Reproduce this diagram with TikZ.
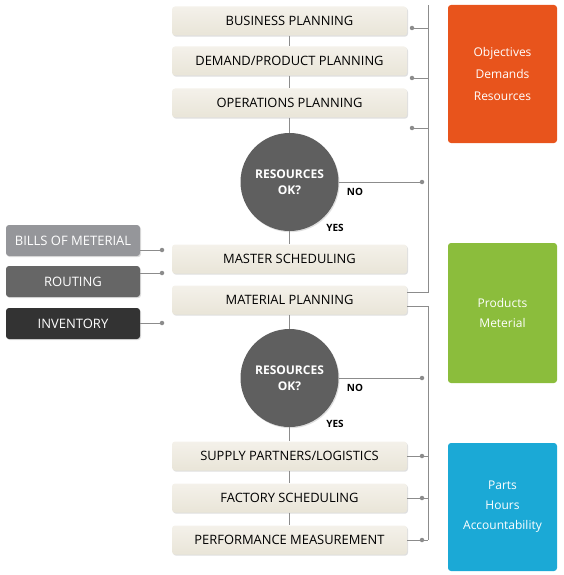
\documentclass[tikz,border=0pt]{standalone}
\usepackage{fontspec}
\setmainfont{Open Sans}
\usetikzlibrary{shadows}
\definecolor{linegray}{HTML}{8C8C8C}
\definecolor{boxtop}{HTML}{F4F1EA}
\definecolor{boxbot}{HTML}{E9E5D8}
\definecolor{qgray}{HTML}{5F5F5F}
\definecolor{bomgray}{HTML}{95969A}
\definecolor{routgray}{HTML}{666666}
\definecolor{invgray}{HTML}{333333}
\definecolor{objorange}{HTML}{E8541C}
\definecolor{prodgreen}{HTML}{8BBD3C}
\definecolor{partblue}{HTML}{1BA9D6}

\begin{document}
\begin{tikzpicture}[x=1pt, y=-1pt,
    stepbox/.style={rounded corners=3pt, minimum width=235pt, minimum height=29pt,
        top color=boxtop, bottom color=boxbot, font=\fontsize{12.9}{14}\selectfont,
        drop shadow={shadow xshift=1pt, shadow yshift=-1.2pt, opacity=0.25}},
    askcircle/.style={circle, fill=qgray, minimum size=98pt, text=white, align=center,
        font=\bfseries\fontsize{12}{16}\selectfont,
        drop shadow={shadow xshift=1pt, shadow yshift=-1.2pt, opacity=0.25}},
    sidebox/.style={rounded corners=3pt, minimum width=134pt, minimum height=31pt,
        text=white, font=\fontsize{13}{14}\selectfont,
        drop shadow={shadow xshift=1pt, shadow yshift=-1.2pt, opacity=0.25}},
    notebox/.style={rounded corners=3pt, minimum width=109pt, text=white, align=center},
    dot/.style={circle, fill=linegray, inner sep=0pt, minimum size=4.5pt},
    answer/.style={font=\bfseries\fontsize{10}{12}\selectfont},
    link/.style={draw=linegray, line width=0.8pt}]
\useasboundingbox (0,0) rectangle (563,575);

% main column
\node[stepbox] (bp) at (289.5,21) {BUSINESS PLANNING};
\node[stepbox] (dp) at (289.5,61) {DEMAND/PRODUCT PLANNING};
\node[stepbox] (op) at (289.5,103) {OPERATIONS PLANNING};
\node[askcircle] (rq1) at (289.5,182) {RESOURCES\\OK?};
\node[stepbox] (ms) at (289.5,259) {MASTER SCHEDULING};
\node[stepbox] (mp) at (289.5,300) {MATERIAL PLANNING};
\node[askcircle] (rq2) at (289.5,378) {RESOURCES\\OK?};
\node[stepbox] (sp) at (289.5,456) {SUPPLY PARTNERS/LOGISTICS};
\node[stepbox] (fs) at (289.5,498) {FACTORY SCHEDULING};
\node[stepbox] (pm) at (289.5,540) {PERFORMANCE MEASUREMENT};
\node[answer] (no1) at (355,192) {NO};
\node[answer] (yes1) at (335,228) {YES};
\node[answer] (no2) at (355,388) {NO};
\node[answer] (yes2) at (335,424) {YES};
\foreach \a/\b in {bp/dp, dp/op, op/rq1, rq1/ms, mp/rq2, rq2/sp, sp/fs, fs/pm}
    \draw[link] (\a.south) -- (\b.north);

% left inputs
\node[sidebox, fill=bomgray] (bom) at (73,240.5) {BILLS OF METERIAL};
\node[sidebox, fill=routgray] (rout) at (73,281.5) {ROUTING};
\node[sidebox, fill=invgray] (inv) at (73,323.5) {INVENTORY};
\node[dot] (dbom) at (162,250) {};
\node[dot] (drout) at (162,273) {};
\node[dot] (dinv) at (162,323) {};
\foreach \s/\d in {bom/dbom, rout/drout, inv/dinv}
    \draw[link] (\s.east |- \d) -- (\d);

% right brackets
\coordinate (b1top) at (428,5);
\coordinate (b1bot) at ([yshift=8pt]mp.east -| b1top);
\coordinate (b2top) at ([yshift=-6pt]mp.east -| b1top);
\coordinate (b2bot) at (428,540);
\draw[link] ([yshift=8pt]mp.east) -- (b1bot) -- (b1top);
\draw[link] ([yshift=-6pt]mp.east) -- (b2top) -- (b2bot);
\foreach \n/\y in {t1/28, t2/78, t3/128} {
    \node[dot] (\n) at (412,\y) {};
    \draw[link] (\n) -- (\n -| b1top);
}
\node[dot] (dno1) at (422,182) {};
\node[dot] (dno2) at (422,378) {};
\draw[link] (rq1.east) -- (dno1);
\draw[link] (rq2.east) -- (dno2);
\foreach \s/\n in {sp/t4, fs/t5, pm/t6} {
    \node[dot] (\n) at (422,0 |- \s) {};
    \draw[link] (\s.east) -- (\n) -- (\n -| b1top);
}

% notes
\node[notebox, fill=objorange, minimum height=138pt, font=\fontsize{12}{22}\selectfont]
    (obj) at (502.5,74) {Objectives\\Demands\\Resources};
\node[notebox, fill=prodgreen, minimum height=140pt, font=\fontsize{12}{20}\selectfont]
    (prod) at (502.5,313) {Products\\Meterial};
\node[notebox, fill=partblue, minimum height=128pt, font=\fontsize{12}{20}\selectfont]
    (part) at (502.5,507) {Parts\\Hours\\Accountability};
\end{tikzpicture}
\end{document}
